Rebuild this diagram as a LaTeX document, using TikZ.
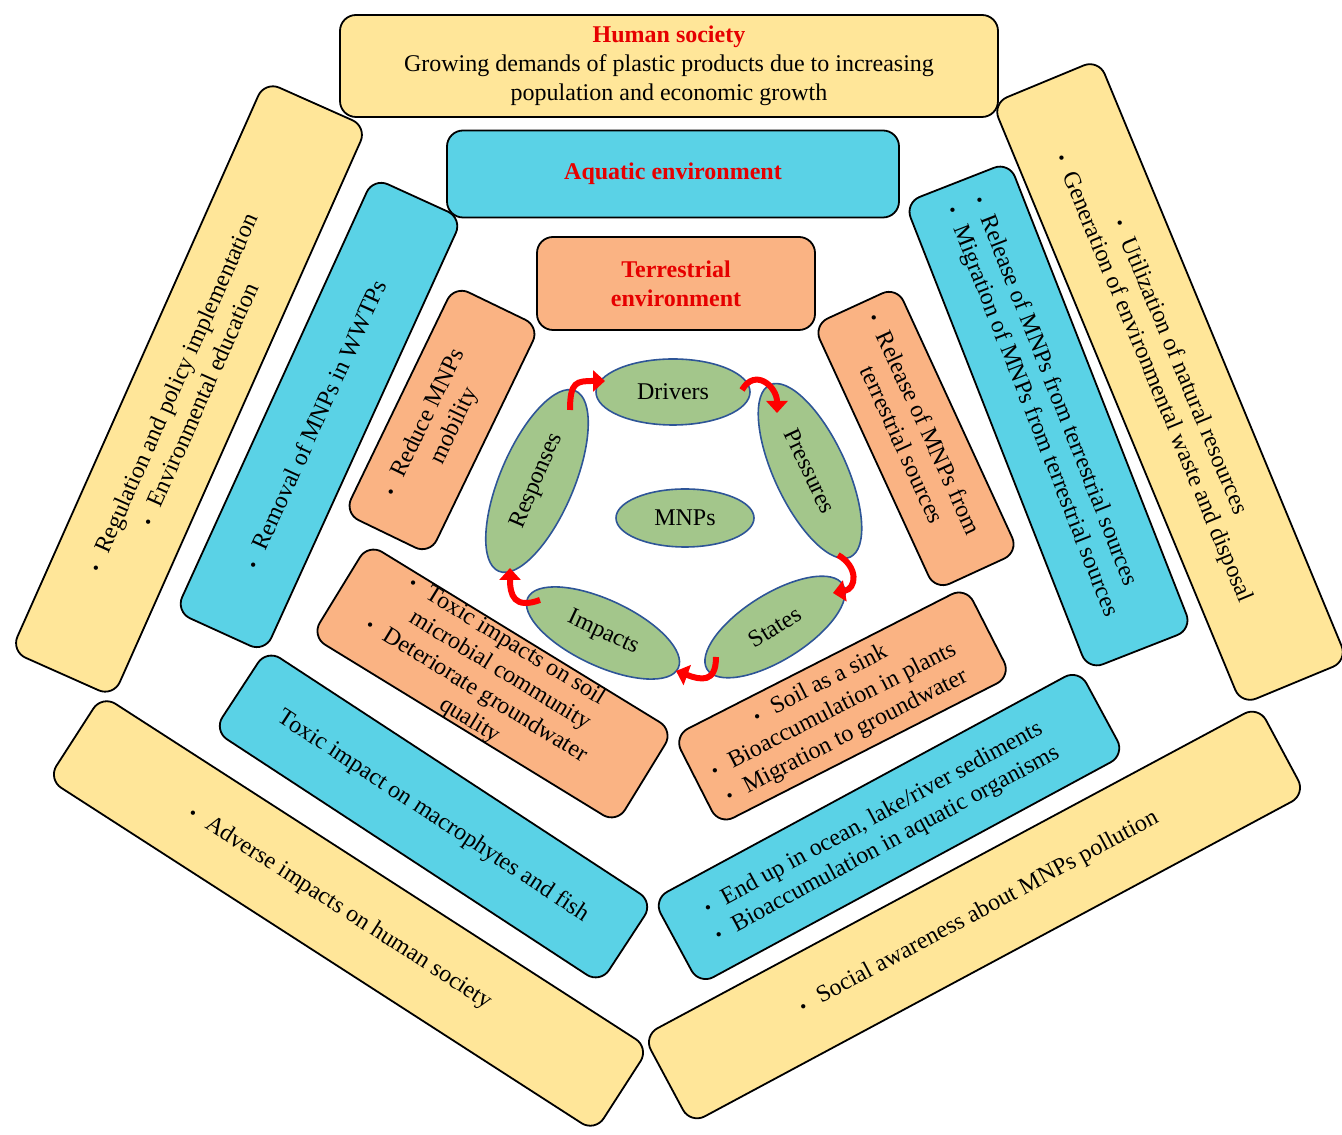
\documentclass[tikz,border=0pt]{standalone}
\usepackage{fontspec}
\setmainfont{Liberation Serif}
\usetikzlibrary{shapes.geometric,arrows.meta}
\definecolor{cy}{HTML}{FFE699}
\definecolor{cb}{HTML}{5AD2E6}
\definecolor{co}{HTML}{FAB383}
\definecolor{cg}{HTML}{A3C68B}
\definecolor{ce}{HTML}{2E5597}
\definecolor{hred}{HTML}{E60000}
\newcommand\bl{\llap{{\fontsize{18}{18}\selectfont\textbullet}\hspace{14pt}}}
\tikzset{
  box/.style={draw=black, line width=1.8pt, rounded corners=16pt, inner sep=0pt,
    align=center, font=\fontsize{24}{29}\selectfont, text=black},
  ybox/.style={box, fill=cy},
  bbox/.style={box, fill=cb},
  obox/.style={box, fill=co},
  head/.style={font=\fontsize{24}{29}\selectfont\bfseries, text=hred},
  dpsir/.style={ellipse, draw=ce, line width=1.6pt, fill=cg, inner sep=0pt,
    font=\fontsize{24}{29}\selectfont},
  cyc/.style={draw=red, line width=6pt, line cap=butt,
    -{Triangle[length=12pt,width=21pt]}}
}
\begin{document}
\begin{tikzpicture}[x=1pt,y=1pt]
\useasboundingbox (0,0) rectangle (1342,1135);
% ---------- outer ring (yellow)
\node[ybox, minimum width=658pt, minimum height=102pt] (y1) at (669,1069)
  {\textcolor{hred}{\textbf{Human society}}\\Growing demands of plastic products due to increasing\\population and economic growth};
\node[ybox, rotate=66, minimum width=624pt, minimum height=112pt] (y2) at (189,746)
  {\bl Regulation and policy implementation\\\bl Environmental education};
\node[ybox, rotate=-67.5, minimum width=651pt, minimum height=115pt] (y3) at (1170,753)
  {\bl Utilization of natural resources\\\bl Generation of environmental waste and disposal};
\node[ybox, rotate=-32.8, minimum width=651pt, minimum height=100pt] (y4) at (348.5,221.5)
  {\bl Adverse impacts on human society};
\node[ybox, rotate=28.2, minimum width=698pt, minimum height=100pt] (y5) at (974.5,220)
  {\hspace*{30pt}\bl Social awareness about MNPs pollution};
% ---------- middle ring (blue)
\node[bbox, head, minimum width=452pt, minimum height=87pt] (b1) at (673,961)
  {Aquatic environment};
\node[bbox, rotate=65.5, minimum width=477pt, minimum height=98pt] (b2) at (319,720)
  {\bl Removal of MNPs in WWTPs};
\node[bbox, rotate=-68.6, minimum width=502pt, minimum height=112pt, align=left] (b3) at (1048.5,719)
  {\bl Release of MNPs from terrestrial sources\\\bl Migration of MNPs from terrestrial sources};
\node[bbox, rotate=-33.2, minimum width=462pt, minimum height=97pt] (b4) at (433.5,318.5)
  {Toxic impact on macrophytes and fish};
\node[bbox, rotate=28.4, minimum width=484pt, minimum height=97pt] (b5) at (889,308)
  {\bl End up in ocean, lake/river sediments\\\bl Bioaccumulation in aquatic organisms};
% ---------- inner ring (orange)
\node[obox, head, minimum width=278pt, minimum height=93pt] (o1) at (676,851.5)
  {Terrestrial\\environment};
\node[obox, rotate=64.2, minimum width=253pt, minimum height=95pt] (o2) at (442,715)
  {\bl Reduce MNPs\\mobility};
\node[obox, rotate=-65.3, minimum width=292pt, minimum height=92pt] (o3) at (916,696.5)
  {\bl Release of MNPs from\\terrestrial sources};
\node[obox, rotate=-31.5, minimum width=358pt, minimum height=101pt] (o4) at (492.5,451.5)
  {\bl Toxic impacts on soil\\microbial community\\\bl Deteriorate groundwater\\quality};
\node[obox, rotate=27, minimum width=328pt, minimum height=100pt] (o5) at (842.5,429)
  {\bl Soil as a sink\\\bl Bioaccumulation in plants\\\bl Migration to groundwater};
% ---------- DPSIR ellipses
\node[dpsir, minimum width=154pt, minimum height=66pt] (drv) at (673,743) {Drivers};
\node[dpsir, rotate=-65, minimum width=190pt, minimum height=72pt] (pre) at (810,664) {Pressures};
\node[dpsir, rotate=32, minimum width=160pt, minimum height=66pt] (sta) at (775,508) {States};
\node[dpsir, rotate=-25, minimum width=166pt, minimum height=66pt] (imp) at (603,502) {Impacts};
\node[dpsir, rotate=67, minimum width=196pt, minimum height=74pt] (res) at (537,654) {Responses};
\node[dpsir, minimum width=138pt, minimum height=58pt] (mnp) at (685,617) {MNPs};
% ---------- cycle arrows
\coordinate (a1s) at (742,745); \coordinate (a1e) at (777,722);
\coordinate (a2s) at (838,580); \coordinate (a2e) at (833,542);
\coordinate (a3s) at (716,478); \coordinate (a3e) at (676,464);
\coordinate (a4s) at (540,535); \coordinate (a4e) at (510,567);
\coordinate (a5s) at (570,725); \coordinate (a5e) at (605,754);
\draw[cyc] (a1s) to[out=60,in=90,looseness=1.6] (a1e);
\draw[cyc] (a2s) to[out=-30,in=10,looseness=1.6] (a2e);
\draw[cyc] (a3s) to[out=-90,in=-20,looseness=1.6] (a3e);
\draw[cyc] (a4s) to[out=200,in=-90,looseness=1.6] (a4e);
\draw[cyc] (a5s) to[out=90,in=180,looseness=1.6] (a5e);
\end{tikzpicture}
\end{document}
